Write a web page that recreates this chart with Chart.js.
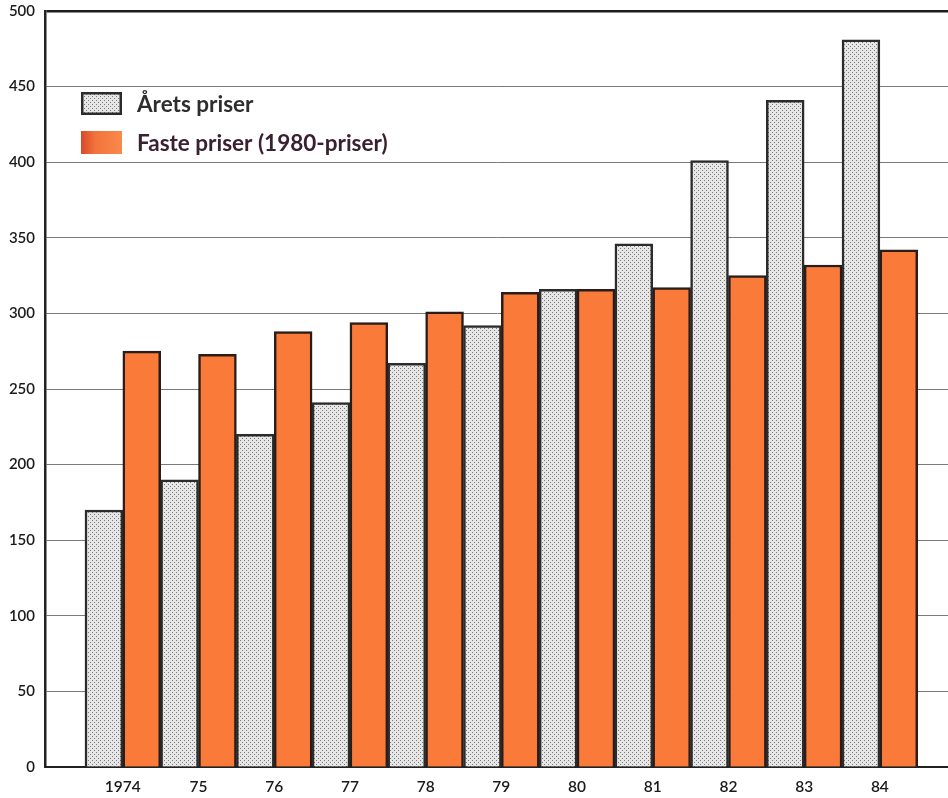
<!DOCTYPE html>
<html>
<head>
<meta charset="utf-8">
<script src="https://cdn.jsdelivr.net/npm/chart.js@4.4.1/dist/chart.umd.min.js"></script>
<style>
  html, body { margin: 0; padding: 0; background: #ffffff; }
  #wrap { width: 948px; height: 798px; }
</style>
</head>
<body>
<div id="wrap"><canvas id="c" width="948" height="798"></canvas></div>
<script>
// ---- data ----
const years = ['1974', '75', '76', '77', '78', '79', '80', '81', '82', '83', '84'];
const aretsPriser = [170, 190, 220, 241, 267, 292, 316, 346, 401, 441, 481];
const fastePriser = [275, 273, 288, 294, 301, 314, 316, 317, 325, 332, 342];
const seriesNames = ['Årets priser', 'Faste priser (1980-priser)'];
const yTicks = [0, 50, 100, 150, 200, 250, 300, 350, 400, 450, 500];

// ---- styles ----
const ORANGE = '#fa7a3a';
const DARK = '#2a1c18';
const FONT = 'Lato, "Open Sans", sans-serif';

function dotPattern() {
  const p = document.createElement('canvas');
  p.width = 4; p.height = 4;
  const g = p.getContext('2d');
  g.fillStyle = '#e6e6e6';
  g.fillRect(0, 0, 4, 4);
  g.fillStyle = '#7a7a7a';
  g.fillRect(0, 0, 1, 1);
  g.fillRect(2, 2, 1, 1);
  return g.createPattern(p, 'repeat');
}
const ctx = document.getElementById('c').getContext('2d');
const GREY_FILL = dotPattern();

const legendPlugin = {
  id: 'insideLegend',
  afterDatasetsDraw(chart) {
    const c = chart.ctx;
    c.save();
    const bx = 81, bw = 41, bh = 23;
    const rows = [
      { y: 92, text: seriesNames[0], color: '#2e2e2e' },
      { y: 131, text: seriesNames[1], color: '#3a2130' }
    ];
    rows.forEach((r, i) => {
      if (i === 1) {
        const gr = c.createLinearGradient(bx, 0, bx + bw, 0);
        gr.addColorStop(0, '#d9482a');
        gr.addColorStop(0.35, '#f2733c');
        gr.addColorStop(1, '#f98a4a');
        c.fillStyle = gr;
        c.fillRect(bx, r.y, bw, bh);
      } else {
        c.fillStyle = GREY_FILL;
        c.fillRect(bx, r.y, bw, bh);
        c.lineWidth = 2.5;
        c.strokeStyle = '#2b2b2b';
        c.strokeRect(bx + 1.25, r.y + 1.25, bw - 2.5, bh - 2.5);
      }
      c.fillStyle = r.color;
      c.font = 'bold 22.5px ' + FONT;
      c.textBaseline = 'middle';
      c.textAlign = 'left';
      c.fillText(r.text, 137, r.y + bh / 2 + 1);
    });
    c.restore();
  }
};

new Chart(ctx, {
  type: 'bar',
  data: {
    datasets: [
      {
        label: seriesNames[0],
        data: years.map((_, i) => ({ x: i, y: aretsPriser[i] })),
        backgroundColor: GREY_FILL,
        borderColor: '#2b2b2b',
        borderWidth: 2.5,
        borderSkipped: 'bottom',
        categoryPercentage: 1,
        barPercentage: 1
      },
      {
        label: seriesNames[1],
        data: years.map((_, i) => ({ x: i, y: fastePriser[i] })),
        backgroundColor: ORANGE,
        borderColor: DARK,
        borderWidth: 2.5,
        borderSkipped: 'bottom',
        categoryPercentage: 1,
        barPercentage: 1
      }
    ]
  },
  options: {
    responsive: false,
    animation: false,
    layout: { padding: { top: 0, right: 0, bottom: 0, left: 0 } },
    plugins: { legend: { display: false }, tooltip: { enabled: false } },
    scales: {
      x: {
        type: 'linear',
        offset: false,
        min: -1.028,
        max: 10.9,
        afterFit(scale) { scale.height = 31; },
        grid: { display: false, drawTicks: false, offset: false },
        border: { display: true, color: '#222', width: 2 },
        afterBuildTicks(scale) {
          scale.ticks = years.map((_, i) => ({ value: i }));
        },
        ticks: {
          autoSkip: false,
          maxRotation: 0,
          padding: 11,
          color: '#1a1a1a',
          font: { family: FONT, size: 15.5, weight: '600' },
          callback: (v) => years[v] ?? ''
        }
      },
      y: {
        min: 0,
        max: 500,
        afterFit(scale) { scale.width = 45; scale.paddingTop = 11; },
        afterBuildTicks(scale) {
          scale.ticks = yTicks.map(v => ({ value: v }));
        },
        grid: {
          drawTicks: false,
          color: (c) => c.tick && c.tick.value === 500 ? '#1e1e1e' : '#7a7a7a',
          lineWidth: (c) => c.tick && c.tick.value === 500 ? 2.5 : 1
        },
        border: { display: true, color: '#222', width: 2.5 },
        ticks: {
          padding: 10,
          color: '#1a1a1a',
          font: { family: FONT, size: 15, weight: '600' }
        }
      }
    }
  },
  plugins: [legendPlugin]
});
</script>
</body>
</html>
